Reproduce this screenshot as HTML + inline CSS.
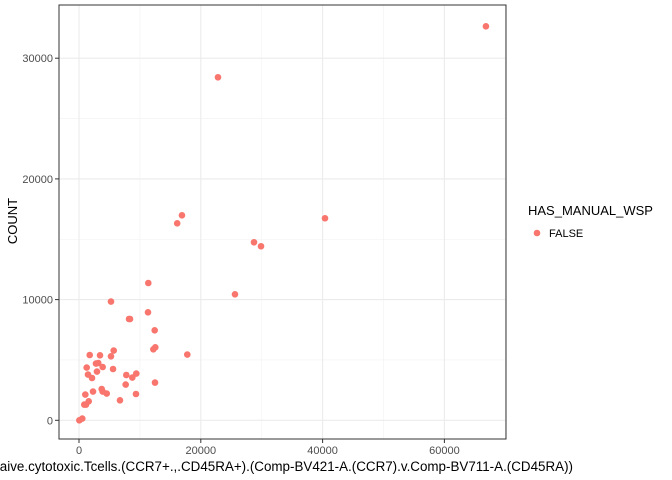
<!DOCTYPE html>
<html><head><meta charset="utf-8"><style>
body{margin:0;background:#fff;}
svg{display:block;font-family:"Liberation Sans",sans-serif;}
</style></head><body>
<svg id="chart" width="672" height="480"></svg>
<script>
const xValues=[50,538,874,1149,1597,6728,1037,2300,4549,3888,3725,9354,12480,7664,2137,1475,5588,2951,3888,3165,2788,1261,5252,5700,3450,1760,9405,8754,7766,17783,12205,12530,12428,8377,8214,11329,5252,11380,22822,66820,16124,16908,40393,28737,29887,25612];
const yValues=[0,141,1300,1300,1574,1657,2129,2378,2212,2378,2593,2179,3123,2958,3505,3786,4250,4035,4416,4747,4698,4366,5302,5775,5385,5410,3869,3538,3753,5443,5882,6048,7457,8393,8393,8948,9834,11375,28420,32640,16320,16980,16740,14750,14420,10440];
const xTicks=[0,20000,40000,60000];
const yTicks=[0,10000,20000,30000];
const NS="http://www.w3.org/2000/svg";
const svg=document.getElementById('chart');
const L=59,R=506,T=5,B=439;
const sx=v=>79+v*0.00609;
const sy=v=>420.3-v*0.01207;
function mk(tag,attrs,parent){const e=document.createElementNS(NS,tag);for(const k in attrs)e.setAttribute(k,attrs[k]);(parent||svg).appendChild(e);return e;}
const bg=mk('rect',{x:L,y:T,width:R-L,height:B-T,fill:'#fff'});


for(let v=-10000;v<=70000;v+=20000){const x=sx(v);if(x>L&&x<R){const g=mk('line',{x1:x,x2:x,y1:T,y2:B,stroke:'#f2f2f2','stroke-width':0.6});}}
for(let v=5000;v<=35000;v+=10000){const y=sy(v);if(y>T&&y<B){const g=mk('line',{x1:L,x2:R,y1:y,y2:y,stroke:'#f2f2f2','stroke-width':0.6});}}
xTicks.forEach(v=>{const x=sx(v);
const g=mk('line',{x1:x,x2:x,y1:T,y2:B,stroke:'#ebebeb','stroke-width':1.1});
const t=mk('line',{x1:x,x2:x,y1:B,y2:B+4,stroke:'#333','stroke-width':1});
const l=mk('text',{x:x,y:B+15,'text-anchor':'middle','font-size':11,fill:'#4d4d4d'});l.textContent=v;});
yTicks.forEach(v=>{const y=sy(v);
const g=mk('line',{x1:L,x2:R,y1:y,y2:y,stroke:'#ebebeb','stroke-width':1.1});
const t=mk('line',{x1:L-4,x2:L,y1:y,y2:y,stroke:'#333','stroke-width':1});
const l=mk('text',{x:L-6,y:y+4,'text-anchor':'end','font-size':11,fill:'#4d4d4d'});l.textContent=v;});
const br=mk('rect',{x:L,y:T,width:R-L,height:B-T,fill:'none',stroke:'#333','stroke-width':1});


xValues.forEach((v,i)=>{const c=mk('circle',{cx:sx(v),cy:sy(yValues[i]),r:3.3,fill:'#f8766d'});

});
const xt=mk('text',{x:573,y:471,'text-anchor':'end','font-size':13.4,fill:'#000'});
xt.textContent='Naive.cytotoxic.Tcells.(CCR7+.,.CD45RA+).(Comp-BV421-A.(CCR7).v.Comp-BV711-A.(CD45RA))';


const yt=mk('text',{x:0,y:0,'text-anchor':'middle','font-size':13,fill:'#000',transform:'translate(17,221) rotate(-90)'});
yt.textContent='COUNT';


const lt=mk('text',{x:528,y:215,'font-size':13,fill:'#000'});
lt.textContent='HAS_MANUAL_WSP';


const ld=mk('circle',{cx:537,cy:233,r:3.3,fill:'#f8766d'});


const ll=mk('text',{x:549,y:237,'font-size':11,fill:'#000'});
ll.textContent='FALSE';


</script>
</body></html>
